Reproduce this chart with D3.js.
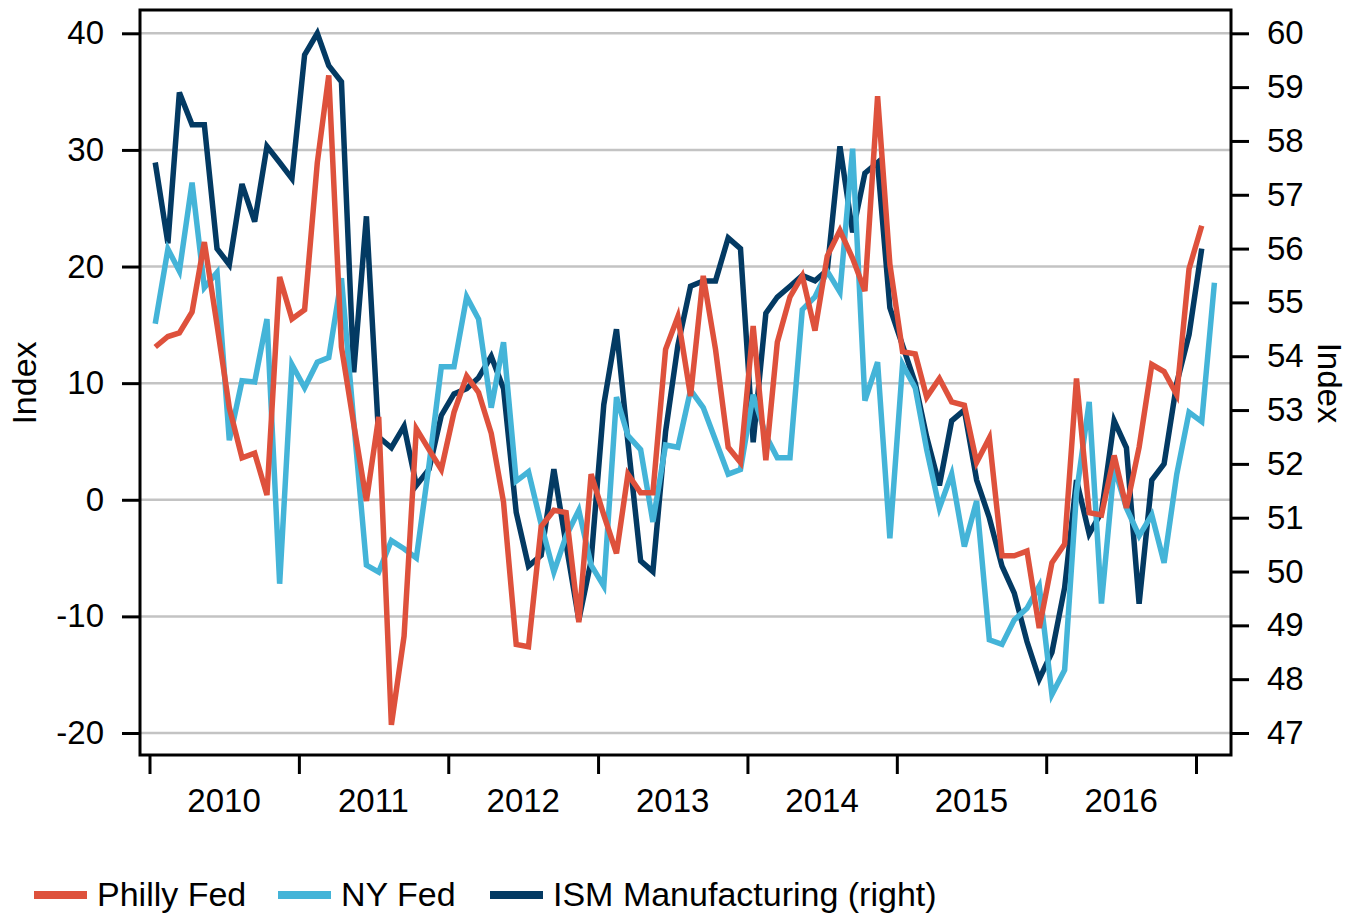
<!DOCTYPE html>
<html>
<head>
<meta charset="utf-8">
<script src="https://cdn.jsdelivr.net/npm/d3@7"></script>
<style>
	body { margin: 0; background: #fff; }
	text { font-family: "Liberation Sans", Arial, sans-serif; fill: #000; }
</style>
</head>
<body>
<script>
// monthly readings, Jan 2010 onward
const phillyFed = [
	13.1, 14.0, 14.3, 16.1, 22.1, 15.0, 7.9, 3.6, 4.0, 0.4, 19.1, 15.5,
	16.3, 28.9, 36.4, 13.1, 6.5, -0.1, 7.1, -19.3, -11.7, 6.1, 4.3, 2.6,
	7.5, 10.6, 9.2, 5.7, -0.2, -12.4, -12.6, -2.3, -0.9, -1.1, -10.5, 2.2,
	-1.3, -4.6, 2.2, 0.6, 0.6, 12.9, 15.7, 8.9, 19.2, 12.9, 4.5, 3.2,
	14.9, 3.4, 13.5, 17.4, 19.2, 14.5, 20.9, 23.1, 20.7, 17.9, 34.6, 20.2,
	12.7, 12.5, 8.8, 10.4, 8.4, 8.1, 3.2, 5.3, -4.8, -4.8, -4.4, -11.0,
	-5.4, -3.8, 10.4, -1.1, -1.3, 3.8, -0.7, 4.5, 11.6, 11.0, 9.0, 19.8,
	23.5
];

const nyFed = [
	15.1, 21.5, 19.6, 27.2, 18.2, 19.5, 5.1, 10.2, 10.1, 15.5, -7.2, 11.6,
	9.6, 11.8, 12.2, 19.0, 6.7, -5.6, -6.2, -3.5, -4.2, -5.0, 3.0, 11.4,
	11.4, 17.4, 15.5, 7.9, 13.5, 1.6, 2.4, -2.1, -6.2, -3.1, -0.9, -5.6,
	-7.4, 8.8, 5.5, 4.3, -1.9, 4.7, 4.5, 9.4, 7.9, 5.1, 2.2, 2.6,
	9.0, 5.5, 3.6, 3.6, 16.3, 17.4, 19.6, 17.8, 30.1, 8.5, 11.8, -3.3,
	11.6, 9.6, 4.3, -0.7, 2.2, -4.0, -0.1, -12.0, -12.4, -10.3, -9.3, -7.4,
	-16.7, -14.6, 0.6, 8.4, -8.9, 2.8, -0.7, -3.1, -1.3, -5.4, 2.2, 7.5,
	6.7, 18.6
];

const ismManufacturing = [
	57.6, 56.1, 58.9, 58.3, 58.3, 56.0, 55.7, 57.2, 56.5, 57.9, 57.6, 57.3,
	59.6, 60.0, 59.4, 59.1, 53.7, 56.6, 52.5, 52.3, 52.7, 51.6, 51.9, 52.9,
	53.3, 53.4, 53.6, 54.0, 53.4, 51.1, 50.1, 50.3, 51.9, 50.5, 49.1, 50.2,
	53.1, 54.5, 52.4, 50.2, 50.0, 52.6, 54.2, 55.3, 55.4, 55.4, 56.2, 56.0,
	52.4, 54.8, 55.1, 55.3, 55.5, 55.4, 55.6, 57.9, 56.3, 57.4, 57.6, 54.9,
	54.2, 53.5, 52.5, 51.6, 52.8, 53.0, 51.7, 51.0, 50.1, 49.6, 48.7, 48.0,
	48.5, 49.7, 51.7, 50.7, 51.1, 52.8, 52.3, 49.4, 51.7, 52.0, 53.5, 54.4,
	56.0
];

const years = [2010, 2011, 2012, 2013, 2014, 2015, 2016];
const leftTicks = [-20, -10, 0, 10, 20, 30, 40];
const rightTicks = d3.range(47, 61);

const months = d3.timeMonth.range(new Date(2010, 0, 1), new Date(2017, 2, 1));

const frame = { left: 140, top: 10, right: 1231, bottom: 755 };

const svg = d3.select('body')
	.append('svg')
	.attr('width', 1348)
	.attr('height', 913);

const xScale = d3.scaleTime()
	.domain([new Date(2010, 0, 1), new Date(2017, 0, 1)])
	.range([149.5, 1196]);

const yLeft = d3.scaleLinear()
	.domain([-20, 40])
	.range([733, 33.3]);

const yRight = d3.scaleLinear()
	.domain([47, 60])
	.range([733, 33.3]);

const midMonth = d => d3.timeDay.offset(d, 14);

// gridlines
svg.append('g')
	.selectAll('line')
	.data(leftTicks)
	.enter().append('line')
	.attr('x1', frame.left)
	.attr('x2', frame.right)
	.attr('y1', d => yLeft(d))
	.attr('y2', d => yLeft(d))
	.attr('stroke', '#c3c3c3')
	.attr('stroke-width', 2.5);

const series = [
	{ name: 'ISM Manufacturing (right)', values: ismManufacturing, y: yRight, color: '#033a63' },
	{ name: 'NY Fed', values: nyFed, y: yLeft, color: '#44b4d8' },
	{ name: 'Philly Fed', values: phillyFed, y: yLeft, color: '#de513c' }
];

series.forEach(s => {
	const line = d3.line()
		.x((d, i) => xScale(midMonth(months[i])))
		.y(d => s.y(d));
	svg.append('path')
		.datum(s.values)
		.attr('fill', 'none')
		.attr('stroke', s.color)
		.attr('stroke-width', 5.5)
		.attr('stroke-linejoin', 'miter')
		.attr('d', line);
});

svg.append('rect')
	.attr('x', frame.left)
	.attr('y', frame.top)
	.attr('width', frame.right - frame.left)
	.attr('height', frame.bottom - frame.top)
	.attr('fill', 'none')
	.attr('stroke', '#000')
	.attr('stroke-width', 3);

// left axis (plain hyphen for negatives, as in the original)
const leftAxis = svg.append('g')
	.attr('transform', `translate(${frame.left}, 0)`)
	.call(d3.axisLeft(yLeft).tickValues(leftTicks)
		.tickFormat(d => String(d))
		.tickSize(18).tickSizeOuter(0).tickPadding(18));

// right axis
const rightAxis = svg.append('g')
	.attr('transform', `translate(${frame.right}, 0)`)
	.call(d3.axisRight(yRight).tickValues(rightTicks)
		.tickFormat(d => String(d))
		.tickSize(18).tickSizeOuter(0).tickPadding(18));

// bottom ticks
const bottomAxis = svg.append('g')
	.attr('transform', `translate(0, ${frame.bottom})`)
	.call(d3.axisBottom(xScale)
		.tickValues(years.concat([2017]).map(y => new Date(y, 0, 1)))
		.tickSize(19).tickSizeOuter(0).tickFormat(''));

const yearLabels = svg.append('g')
	.attr('transform', `translate(0, ${frame.bottom})`)
	.call(d3.axisBottom(xScale)
		.tickValues(years.map(y => new Date(y, 6, 1)))
		.tickSize(0).tickPadding(34)
		.tickFormat(d3.timeFormat('%Y')));

[leftAxis, rightAxis, bottomAxis, yearLabels].forEach(g => {
	g.select('.domain').remove();
	g.selectAll('line').attr('stroke', '#000').attr('stroke-width', 3);
	g.selectAll('text').style('font-size', '33px').attr('font-family', null);
});

svg.append('text')
	.attr('transform', 'translate(36, 383) rotate(-90)')
	.style('text-anchor', 'middle')
	.style('font-size', '34px')
	.text('Index');

svg.append('text')
	.attr('transform', 'translate(1318, 383) rotate(90)')
	.style('text-anchor', 'middle')
	.style('font-size', '33px')
	.text('Index');

// legend
const legendItems = [
	{ name: 'Philly Fed', color: '#de513c', x: 34 },
	{ name: 'NY Fed', color: '#44b4d8', x: 278 },
	{ name: 'ISM Manufacturing (right)', color: '#033a63', x: 490 }
];

const legend = svg.append('g')
	.attr('class', 'legend')
	.attr('transform', 'translate(0, 895)');

const entries = legend.selectAll('.legend-entry')
	.data(legendItems)
	.enter().append('g')
	.attr('class', 'legend-entry')
	.attr('transform', d => `translate(${d.x}, 0)`);

entries.append('rect')
	.attr('x', 0)
	.attr('y', -4)
	.attr('width', 53)
	.attr('height', 8)
	.attr('fill', d => d.color);

entries.append('text')
	.attr('x', 63)
	.attr('y', 11)
	.style('font-size', '34px')
	.text(d => d.name);
</script>
</body>
</html>
